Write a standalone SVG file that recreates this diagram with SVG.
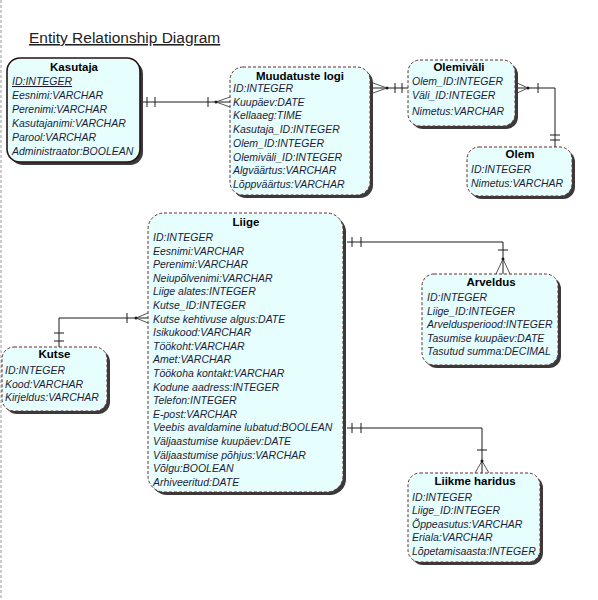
<svg xmlns="http://www.w3.org/2000/svg" width="598" height="600" viewBox="0 0 598 600">
<style>
.sh{fill:#3a3a3a}
.bx{fill:#e6fefe;stroke:#6b2a2a;stroke-width:1;stroke-dasharray:3,2}
.bs{fill:#e6fefe;stroke:#2a1212;stroke-width:1.6}
.tt{font-family:"Liberation Sans",Arial,sans-serif;font-size:11.5px;font-weight:bold;fill:#000;text-anchor:middle}
.at{font-family:"Liberation Sans",Arial,sans-serif;font-size:10.5px;font-style:italic;fill:#1c1c38}
.cn{fill:none;stroke:#1a1a1a;stroke-width:1}
.cf{fill:none;stroke:#555;stroke-width:1}
</style>
<rect width="598" height="600" fill="#fff"/>
<line x1="1" y1="0" x2="1" y2="600" stroke="#999" stroke-width="1" stroke-dasharray="3,2"/>
<text x="29" y="43" font-family="Liberation Sans,Arial,sans-serif" font-size="15.5" fill="#222" text-decoration="underline">Entity Relationship Diagram</text>

<g id="connectors">
<!-- Kasutaja - Muudatuste logi -->
<path class="cn" d="M140,102 H230 M147,97 V107 M155,97 V107 M208,97 V107"/>
<path class="cf" d="M216,102 L230,97 M216,102 L230,107"/>
<circle cx="216" cy="102" r="1.5" fill="#1a1a1a"/>
<!-- Muudatuste logi - Olemiväli -->
<path class="cn" d="M372,88 H408 M395,83 V93 M402,83 V93"/>
<path class="cf" d="M387,88 L373,83 M387,88 L373,93"/>
<circle cx="387" cy="88" r="1.5" fill="#1a1a1a"/>
<!-- Olemiväli - Olem -->
<path class="cn" d="M517,88 H555 V147 M538,83 V93 M550,135 H560 M550,140 H560"/>
<path class="cf" d="M528,88 L517,83 M528,88 L517,93"/>
<circle cx="528" cy="88" r="1.5" fill="#1a1a1a"/>
<!-- Liige - Kutse -->
<path class="cn" d="M148,318 H59 V347 M127,313 V323 M54,333 H64 M54,341 H64"/>
<path class="cf" d="M136,318 L148,313 M136,318 L148,323"/>
<circle cx="136" cy="318" r="1.5" fill="#1a1a1a"/>
<!-- Liige - Arveldus -->
<path class="cn" d="M347,242 H503 V274 M352,237 V247 M361,237 V247 M498,250 H508"/>
<path class="cf" d="M503,259 L496,274 M503,259 L510,274"/>
<circle cx="503" cy="259" r="1.5" fill="#1a1a1a"/>
<!-- Liige - Liikme haridus -->
<path class="cn" d="M347,428 H482 V473 M352,423 V433 M361,423 V433 M477,450 H487"/>
<path class="cf" d="M482,461 L475,473 M482,461 L489,473"/>
<circle cx="482" cy="461" r="1.5" fill="#1a1a1a"/>
</g>

<g id="kasutaja">
<rect class="sh" x="10" y="61" width="133" height="104" rx="13"/>
<rect class="bs" x="7" y="58" width="133" height="104" rx="13"/>
<text class="tt" x="74" y="70.5">Kasutaja</text>
<text class="at" x="12" y="85" text-decoration="underline">ID:INTEGER</text>
<text class="at" x="12" y="99">Eesnimi:VARCHAR</text>
<text class="at" x="12" y="113">Perenimi:VARCHAR</text>
<text class="at" x="12" y="127">Kasutajanimi:VARCHAR</text>
<text class="at" x="12" y="141">Parool:VARCHAR</text>
<text class="at" x="12" y="155">Administraator:BOOLEAN</text>
</g>

<g id="muudatuste-logi">
<rect class="sh" x="233" y="70" width="140" height="128" rx="13"/>
<rect class="bx" x="230" y="67" width="140" height="128" rx="13"/>
<text class="tt" x="300" y="79.5">Muudatuste logi</text>
<text class="at" x="233" y="92">ID:INTEGER</text>
<text class="at" x="233" y="105.7">Kuupäev:DATE</text>
<text class="at" x="233" y="119.4">Kellaaeg:TIME</text>
<text class="at" x="233" y="133.1">Kasutaja_ID:INTEGER</text>
<text class="at" x="233" y="146.8">Olem_ID:INTEGER</text>
<text class="at" x="233" y="160.5">Olemiväli_ID:INTEGER</text>
<text class="at" x="233" y="174.2">Algväärtus:VARCHAR</text>
<text class="at" x="233" y="187.9">Lõppväärtus:VARCHAR</text>
</g>

<g id="olemivali">
<rect class="sh" x="411" y="63" width="107" height="66" rx="12"/>
<rect class="bx" x="408" y="60" width="107" height="66" rx="12"/>
<text class="tt" x="459" y="71">Olemiväli</text>
<text class="at" x="412" y="85">Olem_ID:INTEGER</text>
<text class="at" x="412" y="98.5">Väli_ID:INTEGER</text>
<text class="at" x="412" y="115">Nimetus:VARCHAR</text>
</g>

<g id="olem">
<rect class="sh" x="470" y="150" width="105" height="49" rx="12"/>
<rect class="bx" x="467" y="147" width="105" height="49" rx="12"/>
<text class="tt" x="520" y="158">Olem</text>
<text class="at" x="471" y="173">ID:INTEGER</text>
<text class="at" x="471" y="187">Nimetus:VARCHAR</text>
</g>

<g id="liige">
<rect class="sh" x="151" y="216" width="195" height="279" rx="16"/>
<rect class="bx" x="148" y="213" width="195" height="279" rx="16"/>
<text class="tt" x="246" y="226">Liige</text>
<text class="at" x="153" y="241">ID:INTEGER</text>
<text class="at" x="153" y="254.6">Eesnimi:VARCHAR</text>
<text class="at" x="153" y="268.2">Perenimi:VARCHAR</text>
<text class="at" x="153" y="281.8">Neiupõlvenimi:VARCHAR</text>
<text class="at" x="153" y="295.4">Liige alates:INTEGER</text>
<text class="at" x="153" y="309">Kutse_ID:INTEGER</text>
<text class="at" x="153" y="322.6">Kutse kehtivuse algus:DATE</text>
<text class="at" x="153" y="336.2">Isikukood:VARCHAR</text>
<text class="at" x="153" y="349.8">Töökoht:VARCHAR</text>
<text class="at" x="153" y="363.4">Amet:VARCHAR</text>
<text class="at" x="153" y="377">Töökoha kontakt:VARCHAR</text>
<text class="at" x="153" y="390.6">Kodune aadress:INTEGER</text>
<text class="at" x="153" y="404.2">Telefon:INTEGER</text>
<text class="at" x="153" y="417.8">E-post:VARCHAR</text>
<text class="at" x="153" y="431.4">Veebis avaldamine lubatud:BOOLEAN</text>
<text class="at" x="153" y="445">Väljaastumise kuupäev:DATE</text>
<text class="at" x="153" y="458.6">Väljaastumise põhjus:VARCHAR</text>
<text class="at" x="153" y="472.2">Võlgu:BOOLEAN</text>
<text class="at" x="153" y="485.8">Arhiveeritud:DATE</text>
</g>

<g id="kutse">
<rect class="sh" x="5" y="350" width="105" height="64" rx="12"/>
<rect class="bx" x="2" y="347" width="105" height="64" rx="12"/>
<text class="tt" x="54.5" y="357.5">Kutse</text>
<text class="at" x="5" y="374">ID:INTEGER</text>
<text class="at" x="5" y="387.5">Kood:VARCHAR</text>
<text class="at" x="5" y="401">Kirjeldus:VARCHAR</text>
</g>

<g id="arveldus">
<rect class="sh" x="425" y="277" width="136" height="91" rx="12"/>
<rect class="bx" x="422" y="274" width="136" height="91" rx="12"/>
<text class="tt" x="491" y="286">Arveldus</text>
<text class="at" x="427" y="301">ID:INTEGER</text>
<text class="at" x="427" y="314.5">Liige_ID:INTEGER</text>
<text class="at" x="427" y="328">Arveldusperiood:INTEGER</text>
<text class="at" x="427" y="341.5">Tasumise kuupäev:DATE</text>
<text class="at" x="427" y="355">Tasutud summa:DECIMAL</text>
</g>

<g id="liikme-haridus">
<rect class="sh" x="411" y="476" width="132" height="89" rx="12"/>
<rect class="bx" x="408" y="473" width="132" height="89" rx="12"/>
<text class="tt" x="475" y="485">Liikme haridus</text>
<text class="at" x="412" y="500.5">ID:INTEGER</text>
<text class="at" x="412" y="514">Liige_ID:INTEGER</text>
<text class="at" x="412" y="527.5">Õppeasutus:VARCHAR</text>
<text class="at" x="412" y="541">Eriala:VARCHAR</text>
<text class="at" x="412" y="554.5">Lõpetamisaasta:INTEGER</text>
</g>
</svg>
